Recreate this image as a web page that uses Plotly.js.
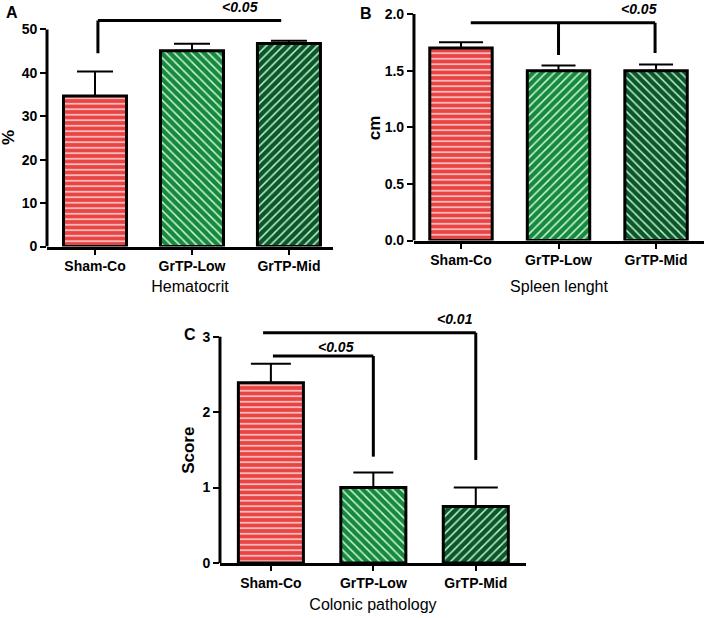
<!DOCTYPE html>
<html><head><meta charset="utf-8">
<script src="https://cdn.plot.ly/plotly-3.0.1.min.js"></script>
<style>html,body{margin:0;padding:0;background:#fff}#chart{width:708px;height:618px}</style>
</head><body><div id="chart"></div>
<script>
// ---- data ----
const categories = ['Sham-Co', 'GrTP-Low', 'GrTP-Mid'];
const hematocrit = [34.7, 45.1, 46.8];
const hematocritErr = [5.6, 1.6, 0.6];
const spleen = [1.70, 1.50, 1.50];
const spleenErr = [0.05, 0.045, 0.055];
const colonic = [2.39, 1.00, 0.75];
const colonicErr = [0.25, 0.20, 0.25];
const yTicksA = [0, 10, 20, 30, 40, 50];
const yTicksB = [0, 0.5, 1.0, 1.5, 2.0];
const yTicksC = [0, 1, 2, 3];
const panelTitles = ['Hematocrit', 'Spleen lenght', 'Colonic pathology'];
const yTitles = ['%', 'cm', 'Score'];
const panelLetters = ['A', 'B', 'C'];
// significance brackets: line [xStart, xEnd, yLevel], drops [x, yBottom], label [text, x, y]
const bracketsA = [{line: [0.03, 1.92, 52.1], drops: [[0.03, 44.5]], label: ['<0.05', 1.50, 55.1]}];
const bracketsB = [{line: [0.10, 1.99, 1.923], drops: [[1.0, 1.638], [1.99, 1.656]], label: ['<0.05', 1.83, 2.047]}];
const bracketsC = [
  {line: [-0.076, 2.0, 3.053], drops: [[2.0, 1.366]], label: ['<0.01', 1.80, 3.23]},
  {line: [0.02, 1.0, 2.744], drops: [[1.0, 1.41]], label: ['<0.05', 0.634, 2.87]}
];

// ---- styles ----
const barColors = ['#e84444', '#16893d', '#0c5729'];
const stripeColors = ['#ffe0e0', '#d0f7de', '#c0f2d4'];
const patternA = ['-', '\\', '/'];
const patternB = ['-', '/', '\\'];
const patternC = ['-', '\\', '/'];
const FONT = 'Liberation Sans, Arial, Helvetica, sans-serif';

const data = [];
function addBars(vals, errs, pats, xa, ya, w, capW) {
  categories.forEach((c, i) => {
    data.push({
      type: 'bar', name: c, x: [c], y: [vals[i]], xaxis: xa, yaxis: ya, width: w,
      marker: {
        color: barColors[i],
        line: {color: '#000', width: 3},
        pattern: {shape: pats[i], fgcolor: stripeColors[i], bgcolor: barColors[i],
          size: i === 0 ? 5.5 : 6, solidity: 0.25, fillmode: 'replace'}
      },
      error_y: {type: 'data', array: [errs[i]], arrayminus: [0], symmetric: false,
        color: '#000', thickness: 2, width: capW[i]},
      hoverinfo: 'x+y'
    });
  });
}
addBars(hematocrit, hematocritErr, patternA, 'x', 'y', 0.65, [18, 18, 18]);
addBars(spleen, spleenErr, patternB, 'x2', 'y2', 0.64, [22, 17, 17]);
addBars(colonic, colonicErr, patternC, 'x3', 'y3', 0.635, [20, 20, 22]);

function xAxis(domain, range, anchor, title, standoff) {
  return {
    domain: domain, range: range, anchor: anchor, type: 'category',
    showline: true, linewidth: 3, linecolor: '#000',
    ticks: 'outside', ticklen: 5, tickwidth: 2, tickcolor: '#000',
    tickfont: {family: FONT, size: 14, weight: 'bold', color: '#000'},
    showgrid: false, zeroline: false, fixedrange: true,
    title: {text: title, font: {family: FONT, size: 16, color: '#000'}, standoff: standoff}
  };
}
function yAxis(domain, range, anchor, ticks, fmt) {
  return {
    domain: domain, range: range, anchor: anchor,
    showline: false, ticks: 'outside', ticklen: 6, tickwidth: 2, tickcolor: '#000',
    tickvals: ticks, tickformat: fmt,
    tickfont: {family: FONT, size: 14, weight: 'bold', color: '#000'},
    showgrid: false, zeroline: false, fixedrange: true
  };
}

const shapes = [];
const annotations = [];
function addAxisLine(xa, ya, ticks, title, shift) {
  const top = ticks[ticks.length - 1];
  shapes.push({type: 'line', xref: xa + ' domain', x0: 0, x1: 0, yref: ya, y0: ticks[0], y1: top,
    line: {color: '#000', width: 3}});
  // y-axis title centred on the drawn axis line
  annotations.push({xref: xa + ' domain', yref: ya, x: 0, y: (ticks[0] + top) / 2, xshift: -shift,
    text: title, textangle: -90, showarrow: false, xanchor: 'center', yanchor: 'middle',
    font: {family: FONT, size: 17, weight: 'bold', color: '#000'}});
}
function addBrackets(list, xa, ya) {
  list.forEach(b => {
    shapes.push({type: 'line', xref: xa, yref: ya, x0: b.line[0], x1: b.line[1], y0: b.line[2], y1: b.line[2],
      line: {color: '#000', width: 3}});
    b.drops.forEach(d => {
      shapes.push({type: 'line', xref: xa, yref: ya, x0: d[0], x1: d[0], y0: b.line[2], y1: d[1],
        line: {color: '#000', width: 3}});
    });
    annotations.push({xref: xa, yref: ya, x: b.label[1], y: b.label[2], text: b.label[0], showarrow: false,
      xanchor: 'center', yanchor: 'middle',
      font: {family: FONT, size: 14, weight: 'bold', style: 'italic', color: '#000'}});
  });
}
addAxisLine('x', 'y', yTicksA, yTitles[0], 39);
addAxisLine('x2', 'y2', yTicksB, yTitles[1], 40);
addAxisLine('x3', 'y3', yTicksC, yTitles[2], 31);
addBrackets(bracketsA, 'x', 'y');
addBrackets(bracketsB, 'x2', 'y2');
addBrackets(bracketsC, 'x3', 'y3');

const letterPos = [[0.017, 0.980], [0.517, 0.978], [0.268, 0.458]];
panelLetters.forEach((t, i) => {
  annotations.push({xref: 'paper', yref: 'paper', x: letterPos[i][0], y: letterPos[i][1], text: t, showarrow: false,
    xanchor: 'center', yanchor: 'middle', font: {family: FONT, size: 16, weight: 'bold', color: '#000'}});
});

const layout = {
  width: 708, height: 618, margin: {l: 0, r: 0, t: 0, b: 0}, showlegend: false,
  barmode: 'overlay',
  paper_bgcolor: '#fff', plot_bgcolor: 'rgba(0,0,0,0)',
  font: {family: FONT, color: '#000'},
  xaxis: xAxis([0.0664, 0.4703], [-0.495, 2.454], 'y', panelTitles[0], 8),
  yaxis: yAxis([0.6011, 0.9968], [0, 56.34], 'x', yTicksA, 'd'),
  xaxis2: xAxis([0.5847, 0.9944], [-0.482, 2.492], 'y2', panelTitles[1], 14),
  yaxis2: yAxis([0.6108, 0.9984], [0, 2.1148], 'x2', yTicksB, '.1f'),
  xaxis3: xAxis([0.3107, 0.7429], [-0.497, 2.49], 'y3', panelTitles[2], 10),
  yaxis3: yAxis([0.0890, 0.5146], [0, 3.487], 'x3', yTicksC, 'd'),
  shapes: shapes,
  annotations: annotations
};

Plotly.newPlot('chart', data, layout, {displayModeBar: false});
</script>
</body></html>
